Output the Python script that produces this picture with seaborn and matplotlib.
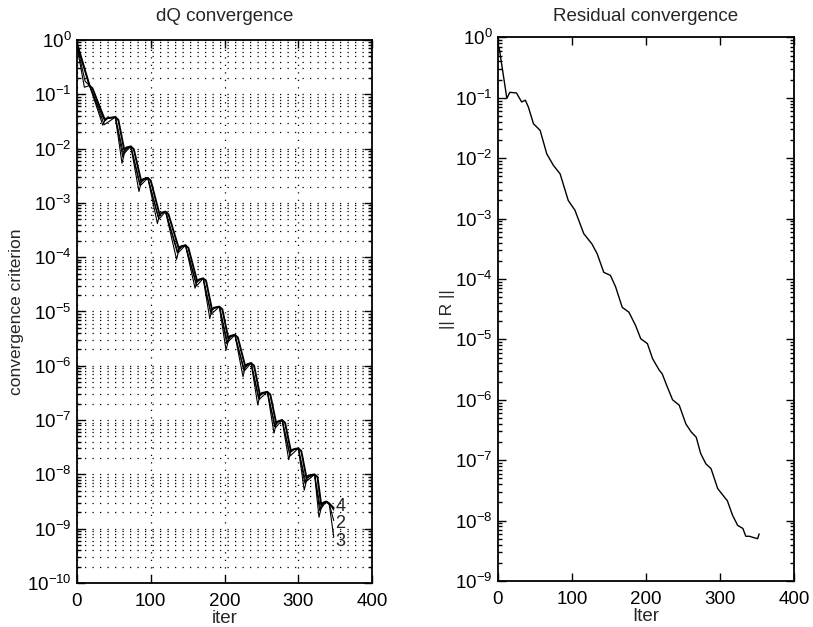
import numpy as np
import pandas as pd
import matplotlib
matplotlib.use("Agg")
import matplotlib.pyplot as plt
import seaborn as sns
from matplotlib.ticker import LogLocator, NullFormatter, FixedLocator, FixedFormatter

# ---------------- data (log10 of values) ----------------
# dQ convergence, series 1..4
s1_iter = [0, 12, 17, 37, 52, 63, 73, 86, 96, 111, 120, 137, 147, 162, 171, 182, 193,
           204, 214, 227, 236, 247, 258, 269, 278, 289, 300, 310, 322, 330, 338, 342, 348]
s1_log = [-0.08, -0.62, -0.84, -1.56, -1.42, -2.10, -1.96, -2.68, -2.54, -3.30, -3.16,
          -3.92, -3.78, -4.53, -4.39, -5.05, -4.91, -5.57, -5.43, -6.09, -5.95, -6.62, -6.48,
          -7.14, -7.00, -7.66, -7.52, -8.14, -8.00, -8.64, -8.50, -8.53, -8.66]

s2_iter = [0, 11, 17, 36, 40, 52, 62, 65, 73, 85, 88, 96, 110, 113, 120, 136, 139, 147,
           161, 164, 171, 181, 184, 193, 203, 206, 214, 226, 229, 236, 246, 249, 258,
           268, 271, 278, 288, 291, 300, 309, 312, 322, 329, 332, 338, 342, 348]
s2_log = [-0.10, -0.76, -0.84, -1.45, -1.44, -1.42, -2.15, -2.01, -1.96, -2.67, -2.57, -2.54,
          -3.26, -3.19, -3.16, -3.92, -3.81, -3.78, -4.45, -4.42, -4.39, -5.01, -4.94, -4.91,
          -5.59, -5.46, -5.43, -6.08, -5.98, -5.95, -6.60, -6.51, -6.48, -7.12, -7.03, -7.00,
          -7.61, -7.55, -7.52, -8.17, -8.03, -8.00, -8.67, -8.53, -8.50, -8.55, -8.85]

s3_iter = [0, 10, 17, 35, 38, 42, 52, 61, 64, 67, 73, 84, 87, 90, 96, 109, 112, 115, 120,
           135, 138, 141, 147, 160, 163, 166, 171, 180, 183, 186, 193, 202, 205, 208, 214,
           225, 228, 231, 236, 245, 248, 251, 258, 267, 270, 273, 278, 287, 290, 293, 300,
           308, 311, 314, 322, 328, 331, 334, 338, 342, 348]
s3_log = [-0.12, -0.87, -0.84, -1.57, -1.47, -1.44, -1.42, -2.27, -2.10, -2.01, -1.96,
          -2.79, -2.62, -2.58, -2.54, -3.38, -3.21, -3.19, -3.16, -4.04, -3.87, -3.82, -3.78,
          -4.57, -4.43, -4.41, -4.39, -5.13, -4.96, -4.94, -4.91, -5.71, -5.54, -5.47, -5.43,
          -6.20, -6.03, -5.99, -5.95, -6.72, -6.55, -6.52, -6.48, -7.24, -7.07, -7.03, -7.00,
          -7.73, -7.56, -7.55, -7.52, -8.29, -8.12, -8.05, -8.00, -8.79, -8.62, -8.54, -8.50,
          -8.56, -9.15]

s4_iter = [0, 17, 21, 38, 41, 52, 56, 64, 67, 73, 77, 87, 90, 96, 100, 112, 115, 120,
           124, 138, 141, 147, 151, 163, 166, 171, 175, 183, 186, 193, 197, 205, 208, 214,
           218, 228, 231, 236, 240, 248, 251, 258, 262, 270, 273, 278, 282, 290, 293, 300,
           304, 311, 314, 322, 326, 331, 334, 338, 342, 348]
s4_log = [-0.06, -0.84, -0.89, -1.48, -1.44, -1.42, -1.47, -2.02, -1.98, -1.96, -2.01, -2.60,
          -2.56, -2.54, -2.59, -3.22, -3.18, -3.16, -3.21, -3.84, -3.80, -3.78, -3.83, -4.45,
          -4.41, -4.39, -4.44, -4.97, -4.93, -4.91, -4.96, -5.49, -5.45, -5.43, -5.48, -6.01,
          -5.97, -5.95, -6.00, -6.54, -6.50, -6.48, -6.53, -7.06, -7.02, -7.00, -7.05, -7.58,
          -7.54, -7.52, -7.57, -8.06, -8.02, -8.00, -8.05, -8.56, -8.52, -8.50, -8.54, -8.62]

series_labels = ["4", "2", "3"]
label_log = [-8.60, -8.91, -9.24]

# Residual convergence
res_iter = [0, 2, 12, 16, 25, 32, 37, 41, 48, 57, 66, 75, 84, 95, 104, 116, 127, 134, 143, 152,
            159, 168, 177, 186, 193, 202, 209, 218, 222, 229, 236, 245, 254, 261, 268, 274,
            281, 288, 297, 306, 310, 317, 324, 331, 335, 340, 345, 351, 353]
res_log = [-0.12, -0.20, -1.01, -0.91, -0.92, -1.07, -1.04, -1.15, -1.43, -1.54, -1.93, -2.12,
           -2.26, -2.70, -2.86, -3.25, -3.42, -3.58, -3.89, -3.94, -4.13, -4.47, -4.55, -4.77,
           -4.99, -5.07, -5.32, -5.51, -5.57, -5.79, -6.00, -6.09, -6.40, -6.53, -6.62, -6.89,
           -7.06, -7.14, -7.47, -7.61, -7.67, -7.91, -8.08, -8.13, -8.26, -8.26, -8.28, -8.30,
           -8.22]

x_ticks = [0, 100, 200, 300, 400]
left_decades = list(range(0, -11, -1))
right_decades = list(range(0, -10, -1))

# ---------------- style ----------------
sns.set_style("ticks")
plt.rcParams['font.family'] = ['Liberation Sans', 'DejaVu Sans']
plt.rcParams['mathtext.fontset'] = 'custom'
plt.rcParams['mathtext.rm'] = 'Liberation Sans'
plt.rcParams['mathtext.it'] = 'Liberation Sans:italic'
plt.rcParams['mathtext.bf'] = 'Liberation Sans:bold'

fig = plt.figure(figsize=(8.13, 6.27), dpi=100)
axL = fig.add_axes([0.0947, 0.0702, 0.363, 0.866])
axR = fig.add_axes([0.6125, 0.0734, 0.364, 0.867])

def to_val(lst):
    return np.power(10.0, np.array(lst, dtype=float))

dotted = (0, (1, 5))

# left panel
for it, lg, lw in [(s1_iter, s1_log, 0.8), (s2_iter, s2_log, 0.8),
                   (s3_iter, s3_log, 0.8), (s4_iter, s4_log, 1.4)]:
    df = pd.DataFrame({"iter": it, "val": to_val(lg)})
    sns.lineplot(data=df, x="iter", y="val", ax=axL, color="black", lw=lw,
                 estimator=None, sort=False)

axL.set_yscale("log")
axL.set_xlim(0, 400)
axL.set_ylim(1e-10, 1e0)
for lab, lg in zip(series_labels, label_log):
    axL.text(357, 10 ** lg, lab, ha="center", va="center", fontsize=13)

# right panel
dfr = pd.DataFrame({"iter": res_iter, "val": to_val(res_log)})
sns.lineplot(data=dfr, x="iter", y="val", ax=axR, color="black", lw=1.0,
             estimator=None, sort=False)
axR.set_yscale("log")
axR.set_xlim(0, 400)
axR.set_ylim(1e-9, 1e0)

for ax, decs in [(axL, left_decades), (axR, right_decades)]:
    ax.xaxis.set_major_locator(FixedLocator(x_ticks))
    ax.set_xticklabels([str(t) for t in x_ticks])
    ax.yaxis.set_major_locator(FixedLocator([10.0 ** d for d in decs]))
    ax.yaxis.set_major_formatter(FixedFormatter([r"$10^{%d}$" % d for d in decs]))
    ax.yaxis.set_minor_locator(LogLocator(base=10, subs=np.arange(2, 10), numticks=100))
    ax.yaxis.set_minor_formatter(NullFormatter())
    ax.tick_params(which="both", direction="in", top=True, right=True, colors="black",
                   labelsize=13.5, width=1.0)
    ax.tick_params(which="major", length=6)
    ax.tick_params(which="minor", length=3)
    ax.tick_params(axis="x", pad=7)
    ax.tick_params(axis="y", pad=4)
    for sp in ax.spines.values():
        sp.set_visible(True)
        sp.set_linewidth(1.3)
        sp.set_color("black")

axL.yaxis.grid(True, which="both", linestyle=dotted, color="black", lw=0.9)
axL.xaxis.grid(True, which="major", linestyle=dotted, color="black", lw=0.9)
axR.grid(False)

axL.set_title("dQ convergence", fontsize=13.5, pad=14)
axR.set_title("Residual convergence", fontsize=13.5, pad=12)
axL.set_xlabel("iter", fontsize=13.5, labelpad=0)
axR.set_xlabel("Iter", fontsize=13.5, labelpad=0)
axL.set_ylabel("convergence criterion", fontsize=12.5, labelpad=2)
axR.set_ylabel("|| R ||", fontsize=12.5, labelpad=0)

fig.savefig("out.png", dpi=100, facecolor="white")
